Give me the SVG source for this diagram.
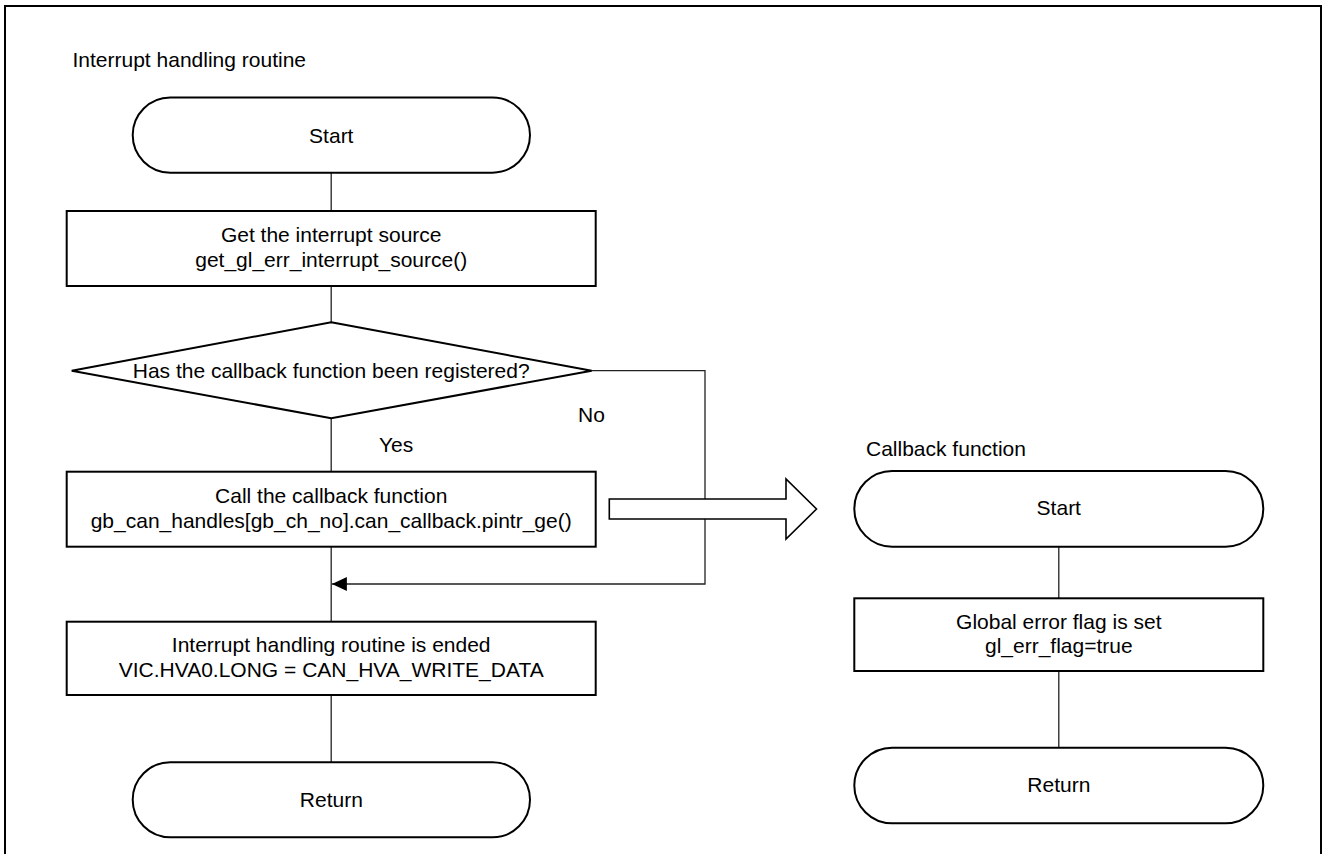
<svg xmlns="http://www.w3.org/2000/svg" width="1326" height="854" viewBox="0 0 1326 854">
  <defs>
    <marker id="arrowhead" viewBox="0 0 15 14" refX="15" refY="7" markerWidth="15" markerHeight="14" markerUnits="userSpaceOnUse" orient="auto">
      <path d="M0,0 L15,7 L0,14 Z" fill="#000"/>
    </marker>
    <style>
      .frame { fill: none; stroke: #000; stroke-width: 2; }
      .shape { fill: #fff; stroke: #000; stroke-width: 2; }
      .conn { fill: none; stroke: #222; stroke-width: 1.3; }
      .block { fill: #fff; stroke: #000; stroke-width: 1.6; }
      text { font-family: "Liberation Sans", Arial, sans-serif; font-size: 21px; fill: #000; }
      .c { text-anchor: middle; }
    </style>
  </defs>

  <rect id="page" fill="#fff" x="0" y="0" width="1326" height="854"/>
  <rect class="frame" x="5" y="6" width="1316" height="860"/>

  <!-- section headings -->
  <text id="title-main" x="72.5" y="66.5">Interrupt handling routine</text>
  <text id="title-callback" x="866" y="455.5">Callback function</text>

  <!-- connectors -->
  <g id="connectors">
    <line class="conn" x1="331.2" y1="172.7" x2="331.2" y2="211"/>
    <line class="conn" x1="331.2" y1="286" x2="331.2" y2="322.3"/>
    <line class="conn" x1="331.2" y1="418.3" x2="331.2" y2="471.7"/>
    <line class="conn" x1="331.2" y1="546.7" x2="331.2" y2="621.7"/>
    <line class="conn" x1="331.2" y1="695" x2="331.2" y2="762.3"/>
    <polyline class="conn" points="591.7,370.7 705,370.7 705,584 331.9,584" marker-end="url(#arrowhead)"/>
    <line class="conn" x1="1058.8" y1="546.7" x2="1058.8" y2="598.3"/>
    <line class="conn" x1="1058.8" y1="671" x2="1058.8" y2="747.7"/>
    <!-- hollow block arrow to the callback routine -->
    <polygon class="block" points="609.3,499 786,499 786,479 816.5,509 786,539 786,519 609.3,519"/>
    <text id="label-no" x="578" y="422">No</text>
    <text id="label-yes" x="379" y="451.7">Yes</text>
  </g>

  <g id="start-main">
    <rect class="shape" x="132.7" y="97.5" width="397.3" height="75.2" rx="37.6" ry="37.6"/>
    <text class="c" x="331.3" y="142.5">Start</text>
  </g>

  <g id="get-source">
    <rect class="shape" x="66.7" y="211" width="529" height="75"/>
    <text class="c" x="331.2" y="241.5">Get the interrupt source</text>
    <text class="c" x="331.2" y="266.5">get_gl_err_interrupt_source()</text>
  </g>

  <g id="check-callback">
    <polygon class="shape" points="331.2,322.3 591.7,370.7 331.2,418.3 71.7,370.7"/>
    <text class="c" x="331.2" y="378">Has the callback function been registered?</text>
  </g>

  <g id="call-callback">
    <rect class="shape" x="66.7" y="471.7" width="529" height="75"/>
    <text class="c" x="331.2" y="502.7">Call the callback function</text>
    <text class="c" x="331.2" y="528.3">gb_can_handles[gb_ch_no].can_callback.pintr_ge()</text>
  </g>

  <g id="end-routine">
    <rect class="shape" x="66.7" y="621.7" width="529" height="73.3"/>
    <text class="c" x="331.2" y="651.7">Interrupt handling routine is ended</text>
    <text class="c" x="331.2" y="677.3">VIC.HVA0.LONG = CAN_HVA_WRITE_DATA</text>
  </g>

  <g id="return-main">
    <rect class="shape" x="132.7" y="762.3" width="397.3" height="75" rx="37.5" ry="37.5"/>
    <text class="c" x="331.3" y="806.7">Return</text>
  </g>

  <g id="start-callback">
    <rect class="shape" x="854.3" y="471" width="409" height="75.7" rx="37.8" ry="37.8"/>
    <text class="c" x="1058.8" y="515">Start</text>
  </g>

  <g id="set-flag">
    <rect class="shape" x="854.3" y="598.3" width="409" height="72.7"/>
    <text class="c" x="1058.8" y="629.3">Global error flag is set</text>
    <text class="c" x="1058.8" y="653.3">gl_err_flag=true</text>
  </g>

  <g id="return-callback">
    <rect class="shape" x="854.3" y="747.7" width="409" height="75.6" rx="37.8" ry="37.8"/>
    <text class="c" x="1058.8" y="791.7">Return</text>
  </g>
</svg>
